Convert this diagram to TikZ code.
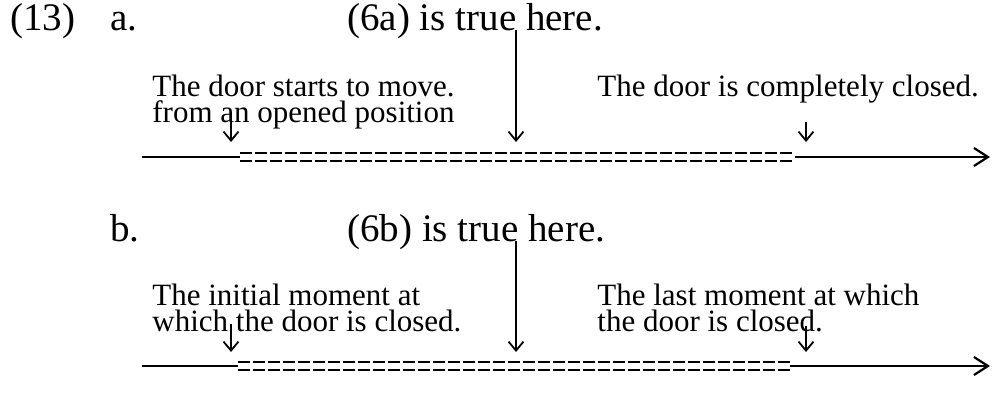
\documentclass[tikz,border=0pt]{standalone}
\usepackage{fontspec}
\setmainfont{Liberation Serif}
\usetikzlibrary{arrows.meta,positioning}

\begin{document}
\begin{tikzpicture}[x=0.5pt,y=-0.5pt,
  hd/.style={font=\fontsize{19.5}{22}\selectfont,inner sep=0pt,anchor=base west},
  txt/.style={font=\fontsize{15.5}{13}\selectfont,inner sep=0pt,align=left,anchor=north west},
  pt/.style={-{Straight Barb[length=4.5pt,width=7.5pt]},line width=0.9pt},
  solid line/.style={line width=0.7pt},
  dash line/.style={line width=1.1pt,dash pattern=on 6pt off 1.5pt},
  tip/.style={-{Straight Barb[length=7pt,width=9pt,line width=1.1pt]}}]
  \useasboundingbox (0,0) rectangle (992,401);

  % (13) a.
  \node[hd] (n13) at (10,31) {(13)};
  \node[hd] (la) at (110,31) {a.};
  \node[hd] (ha) at (347,31) {(6a) is true here.};
  \node[txt] (sa) at (152,75) {The door starts to move.\\from an opened position};
  \node[txt] (ea) at (597,75) {The door is completely closed.};

  \coordinate (a0) at (142,157);
  \coordinate (a1) at (240,157);
  \coordinate (a2) at (795,157);
  \coordinate (a3) at (990,157);
  \draw[solid line] (a0) -- (a1);
  \draw[dash line] ([yshift=-2]a1) -- ([yshift=-2]a2);
  \draw[dash line] ([yshift=2]a1) -- ([yshift=2]a2);
  \draw[solid line,tip] (a2) -- (a3);

  \draw[pt] (516,30) -- (516,142);
  \draw[pt] (231,112) -- (231,142);
  \draw[pt] (806,122) -- (806,142);

  % b.
  \node[hd] (lb) at (110,242) {b.};
  \node[hd] (hb) at (347,242) {(6b) is true here.};
  \node[txt] (sb) at (152,284) {The initial moment at\\which the door is closed.};
  \node[txt] (eb) at (597,284) {The last moment at which\\the door is closed.};

  \coordinate (b0) at (142,366);
  \coordinate (b1) at (238,366);
  \coordinate (b2) at (790,366);
  \coordinate (b3) at (990,366);
  \draw[solid line] (b0) -- (b1);
  \draw[dash line] ([yshift=-2]b1) -- ([yshift=-2]b2);
  \draw[dash line] ([yshift=2]b1) -- ([yshift=2]b2);
  \draw[solid line,tip] (b2) -- (b3);

  \draw[pt] (516,241) -- (516,352);
  \draw[pt] (231,324) -- (231,352);
  \draw[pt] (806,326) -- (806,352);
\end{tikzpicture}
\end{document}
